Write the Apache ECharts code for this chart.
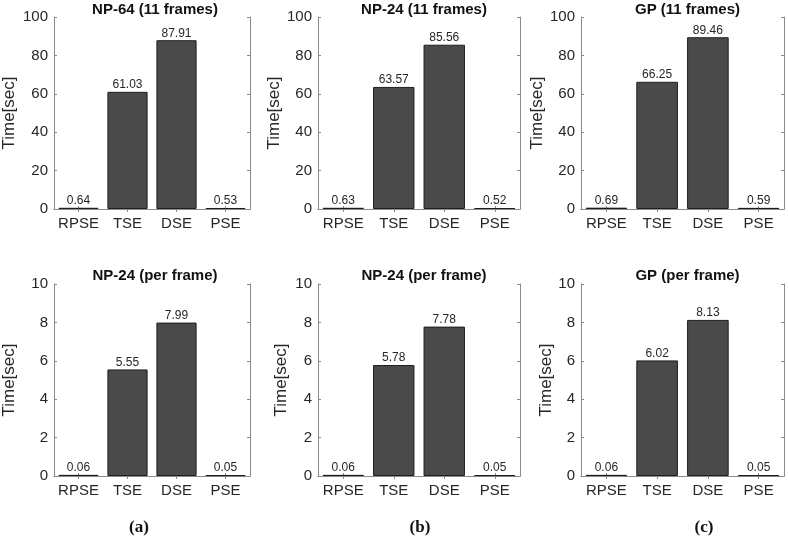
<!DOCTYPE html>
<html><head><meta charset="utf-8">
<script src="https://cdn.jsdelivr.net/npm/echarts@6/dist/echarts.min.js"></script>
<style>html,body{margin:0;padding:0;background:#fff}#c{width:788px;height:536px}</style>
</head><body><div id="c"></div>
<script>
const categories = ['RPSE', 'TSE', 'DSE', 'PSE'];
const titles = ['NP-64 (11 frames)', 'NP-24 (11 frames)', 'GP (11 frames)',
                'NP-24 (per frame)', 'NP-24 (per frame)', 'GP (per frame)'];
const panelLabels = ['(a)', '(b)', '(c)'];
const npa11 = [0.64, 61.03, 87.91, 0.53];
const npb11 = [0.63, 63.57, 85.56, 0.52];
const gp11 = [0.69, 66.25, 89.46, 0.59];
const npaPF = [0.06, 5.55, 7.99, 0.05];
const npbPF = [0.06, 5.78, 7.78, 0.05];
const gpPF = [0.06, 6.02, 8.13, 0.05];
const seriesData = [npa11, npb11, gp11, npaPF, npbPF, gpPF];
const yMax = [100, 100, 100, 10, 10, 10];
const yInterval = [20, 20, 20, 2, 2, 2];

const colLeft = [50, 318, 581];
const colWidth = [200, 202, 203];
const nameGaps = [36, 28, 25];
const panelLabelX = [134, 415, 699];
const rowTop = [17, 284];
const plotH = 192;
const axisColor = '#8a8a8a';
const textColor = '#262626';
const font = 'Liberation Sans, Arial, sans-serif';

const grids = [], xAxes = [], yAxes = [], series = [], titleArr = [];
for (let i = 0; i < 6; i++) {
  const c = i % 3, r = Math.floor(i / 3);
  grids.push({left: colLeft[c], top: rowTop[r], width: colWidth[c], height: plotH});
  xAxes.push({type: 'category', gridIndex: i, data: categories, position: 'bottom',
    axisLine: {lineStyle: {color: axisColor, width: 1}},
    axisTick: {show: true, inside: true, alignWithLabel: true, length: 3, lineStyle: {color: axisColor}},
    axisLabel: {interval: 0, color: textColor, fontSize: 15, fontFamily: font, margin: 7}});
  xAxes.push({type: 'category', gridIndex: i, data: categories, position: 'top',
    axisLine: {lineStyle: {color: axisColor, width: 1}},
    axisTick: {show: true, inside: true, alignWithLabel: true, length: 3, lineStyle: {color: axisColor}},
    axisLabel: {show: false}});
  yAxes.push({type: 'value', gridIndex: i, min: 0, max: yMax[i], interval: yInterval[i], position: 'left',
    name: 'Time[sec]', nameLocation: 'middle', nameGap: nameGaps[c],
    nameTextStyle: {color: textColor, fontSize: 17, fontFamily: font},
    axisLine: {show: true, lineStyle: {color: axisColor, width: 1}},
    axisTick: {show: true, inside: true, length: 3, lineStyle: {color: axisColor}},
    splitLine: {show: false},
    axisLabel: {color: textColor, fontSize: 15, fontFamily: font, margin: 6}});
  yAxes.push({type: 'value', gridIndex: i, min: 0, max: yMax[i], interval: yInterval[i], position: 'right',
    axisLine: {show: true, lineStyle: {color: axisColor, width: 1}},
    axisTick: {show: true, inside: true, length: 3, lineStyle: {color: axisColor}},
    splitLine: {show: false}, axisLabel: {show: false}});
  series.push({type: 'bar', xAxisIndex: 2 * i, yAxisIndex: 2 * i, data: seriesData[i],
    barWidth: '82%',
    itemStyle: {color: '#4a4a4a', borderColor: '#1e1e1e', borderWidth: 1},
    label: {show: true, position: 'top', distance: 1, color: textColor, fontSize: 12, fontFamily: font,
      formatter: p => p.value.toFixed(2)}});
  titleArr.push({text: titles[i], left: colLeft[c] + colWidth[c] / 2, top: r === 0 ? -3 : 263, textAlign: 'center',
    textStyle: {fontSize: 15, fontWeight: 'bold', color: '#111', fontFamily: font}});
}
for (let c = 0; c < 3; c++) {
  titleArr.push({text: panelLabels[c], left: panelLabelX[c], top: 514, textAlign: 'center',
    textStyle: {fontSize: 17, fontWeight: 'bold', color: '#111', fontFamily: 'Liberation Serif, Times New Roman, serif'}});
}
const chart = echarts.init(document.getElementById('c'), null, {renderer: 'canvas'});
chart.setOption({animation: false, backgroundColor: '#fff', title: titleArr, grid: grids, xAxis: xAxes, yAxis: yAxes, series: series});
</script></body></html>
